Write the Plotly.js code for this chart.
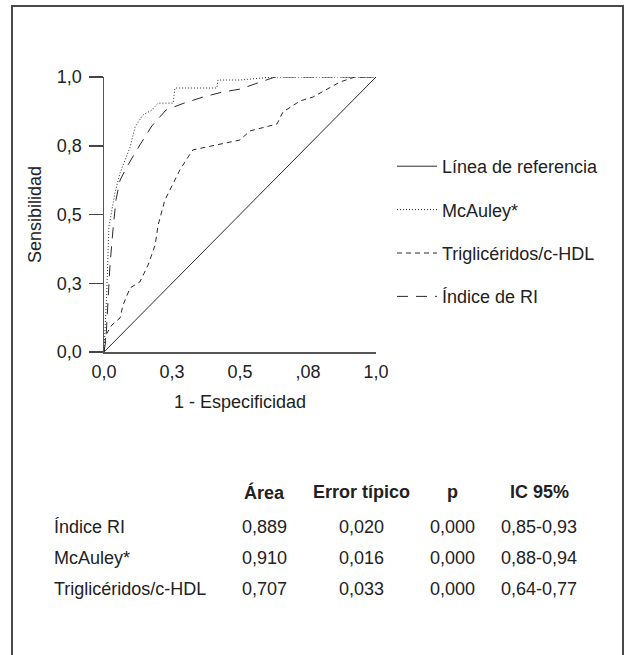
<!DOCTYPE html>
<html>
<head>
<meta charset="utf-8">
<script src="https://cdn.plot.ly/plotly-3.0.1.min.js"></script>
<style>html,body{margin:0;padding:0;background:#fff;}#chart{width:624px;height:655px;}</style>
</head>
<body>
<div id="chart"></div>
<script>
// ---- Data ----
const xRef = [0, 1];
const yRef = [0, 1];

const xMcAuley = [0, 0.01, 0.018, 0.04, 0.059, 0.096, 0.114, 0.143, 0.176, 0.199, 0.254, 0.261, 0.415, 0.419, 0.5, 0.621, 1];
const yMcAuley = [0, 0.215, 0.455, 0.578, 0.651, 0.745, 0.818, 0.862, 0.88, 0.905, 0.905, 0.96, 0.96, 0.989, 0.989, 1, 1];

const xTrig = [0, 0.007, 0.029, 0.059, 0.07, 0.096, 0.132, 0.162, 0.188, 0.199, 0.224, 0.25, 0.279, 0.309, 0.327, 0.5, 0.537, 0.636, 0.658, 0.721, 0.768, 0.868, 0.923, 1];
const yTrig = [0, 0.062, 0.098, 0.124, 0.171, 0.233, 0.255, 0.316, 0.389, 0.462, 0.553, 0.607, 0.662, 0.709, 0.735, 0.771, 0.804, 0.829, 0.873, 0.913, 0.927, 0.982, 1, 1];

const xIndice = [0, 0.007, 0.015, 0.022, 0.033, 0.044, 0.059, 0.088, 0.132, 0.176, 0.228, 0.294, 0.364, 0.434, 0.5, 0.562, 0.629, 1];
const yIndice = [0, 0.044, 0.189, 0.316, 0.444, 0.553, 0.625, 0.68, 0.753, 0.822, 0.88, 0.905, 0.927, 0.945, 0.956, 0.978, 1, 1];

const seriesNames = ["Línea de referencia", "McAuley*", "Triglicéridos/c-HDL", "Índice de RI"];

const tickVals = [0, 0.25, 0.5, 0.75, 1];
const xTickText = ["0,0", "0,3", "0,5", ",08", "1,0"];
const yTickText = ["0,0", "0,3", "0,5", "0,8", "1,0"];

const tableHeaders = ["Área", "Error típico", "p", "IC 95%"];
const tableRows = ["Índice RI", "McAuley*", "Triglicéridos/c-HDL"];
const areaVals = ["0,889", "0,910", "0,707"];
const errorVals = ["0,020", "0,016", "0,033"];
const pVals = ["0,000", "0,000", "0,000"];
const ciVals = ["0,85-0,93", "0,88-0,94", "0,64-0,77"];

// ---- Layout helpers (pixel -> paper) ----
const W = 624, H = 655;
const L = 104, R = 376, T = 77, B = 352;
const px = v => (v - L) / (R - L);
const py = v => (B - v) / (B - T);

const FONT = "Liberation Sans, Arial, Helvetica, sans-serif";
const TXT = "#222";
const LINE = "#2a2a2a";

const traces = [
  {x: xRef, y: yRef, name: seriesNames[0], legendgroup: "a", mode: "lines", line: {color: LINE, width: 1, dash: "solid"}},
  {x: xMcAuley, y: yMcAuley, name: seriesNames[1], legendgroup: "b", mode: "lines", line: {color: LINE, width: 1, dash: "1px,2px"}},
  {x: xTrig, y: yTrig, name: seriesNames[2], legendgroup: "c", mode: "lines", line: {color: LINE, width: 1, dash: "5px,4px"}},
  {x: xIndice, y: yIndice, name: seriesNames[3], legendgroup: "d", mode: "lines", line: {color: LINE, width: 1, dash: "11px,8px"}}
];

const annotations = [];
const colX = [264, 361, 452, 539];
tableHeaders.forEach((h, i) => {
  annotations.push({xref: "paper", yref: "paper", x: px(colX[i]), y: py(492), text: "<b>" + h + "</b>",
    showarrow: false, xanchor: "center", yanchor: "middle", font: {family: FONT, size: 18, color: TXT}});
});
const rowY = [527, 558, 589];
const cols = [areaVals, errorVals, pVals, ciVals];
tableRows.forEach((r, j) => {
  annotations.push({xref: "paper", yref: "paper", x: px(52), y: py(rowY[j]), text: r,
    showarrow: false, xanchor: "left", yanchor: "middle", font: {family: FONT, size: 18, color: TXT}});
  cols.forEach((c, i) => {
    annotations.push({xref: "paper", yref: "paper", x: px(colX[i]), y: py(rowY[j]), text: c[j],
      showarrow: false, xanchor: "center", yanchor: "middle", font: {family: FONT, size: 18, color: TXT}});
  });
});

const layout = {
  width: W, height: H,
  margin: {l: L, r: W - R, t: T, b: H - B},
  paper_bgcolor: "#fff", plot_bgcolor: "#fff",
  font: {family: FONT, size: 18, color: TXT},
  showlegend: true,
  legend: {x: px(392), y: py(148), xanchor: "left", yanchor: "top", bgcolor: "rgba(0,0,0,0)",
    borderwidth: 0, tracegroupgap: 17, itemwidth: 40, traceorder: "grouped",
    font: {family: FONT, size: 18, color: TXT}},
  xaxis: {range: [0, 1], tickvals: tickVals, ticktext: xTickText, showgrid: false, zeroline: false,
    showline: true, linecolor: "#555", linewidth: 1.5, ticks: "", ticklabelstandoff: 3,
    title: {text: "1 - Especificidad", font: {family: FONT, size: 18, color: TXT}, standoff: 14},
    fixedrange: true},
  yaxis: {range: [0, 1], tickvals: tickVals, ticktext: yTickText, showgrid: false, zeroline: false,
    showline: true, linecolor: "#555", linewidth: 1.5, ticks: "outside", ticklen: 14, tickwidth: 1.5,
    tickcolor: "#444", ticklabelstandoff: 3,
    title: {text: "Sensibilidad", font: {family: FONT, size: 18, color: TXT}, standoff: 10},
    fixedrange: true},
  shapes: [
    {type: "rect", xref: "paper", yref: "paper", x0: px(12), x1: px(623), y0: py(6), y1: py(720),
      line: {color: "#4a4a4a", width: 2}, fillcolor: "rgba(0,0,0,0)", layer: "below"}
  ],
  annotations: annotations
};

Plotly.newPlot("chart", traces, layout, {staticPlot: true, displayModeBar: false});
</script>
</body>
</html>
